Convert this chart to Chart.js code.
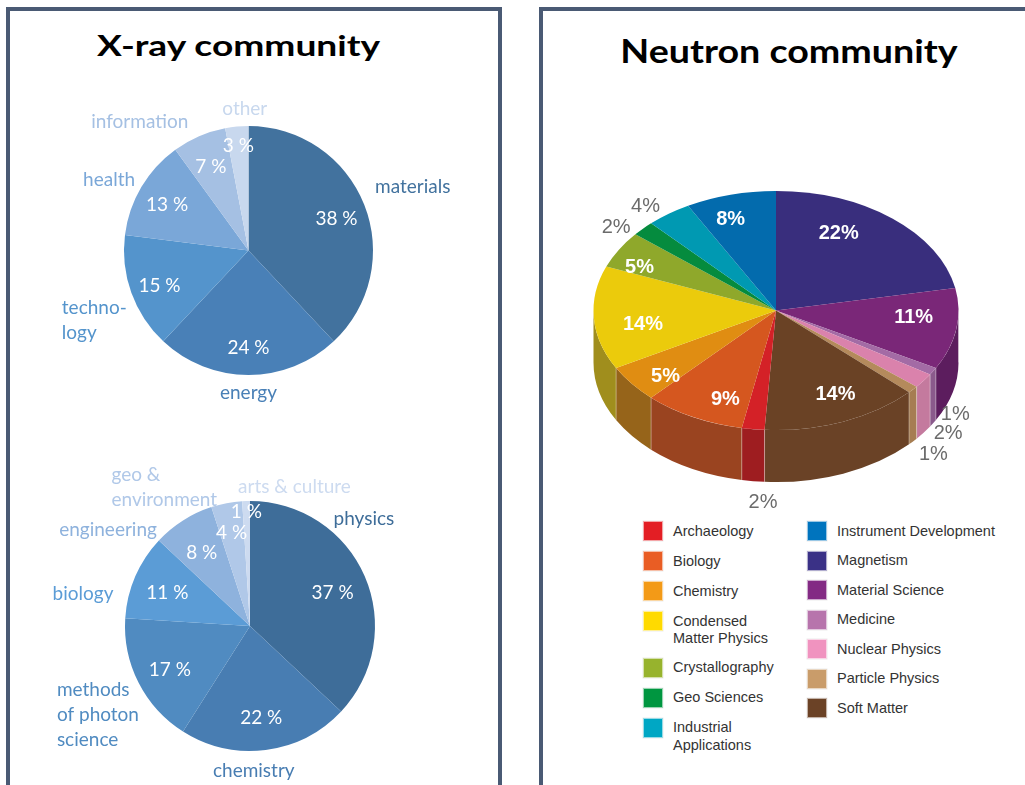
<!DOCTYPE html>
<html>
<head>
<meta charset="utf-8">
<script src="https://cdn.jsdelivr.net/npm/chart.js@4.4.0/dist/chart.umd.min.js"></script>
<style>
    body { margin: 0; background: #fff; width: 1025px; height: 785px; overflow: hidden; position: relative; }
    .panel { position: absolute; border: 4px solid #4a5a74; border-bottom: none; height: 800px; }
    #left-panel { left: 6px; top: 7px; width: 488px; }
    #right-panel { left: 539px; top: 7px; width: 600px; }
    .title { position: absolute; font-family: Lato, sans-serif; font-weight: bold; color: #000; text-align: center; white-space: nowrap; line-height: 1; transform-origin: 50% 50%; }
    canvas { position: absolute; }
    .legend-col { position: absolute; top: 521px; font-family: "Liberation Sans", Arial, sans-serif; font-size: 14.5px; color: #333; }
    .legend-item { display: flex; align-items: flex-start; }
    .legend-item .sw { width: 18px; height: 18px; border: 1px solid rgba(255,255,255,0.6); box-shadow: 0 0 0 0.5px rgba(0,0,0,0.08); flex: none; }
    .legend-item .txt { margin-left: 10px; line-height: 17.5px; margin-top: 1.5px; white-space: pre-line; }
</style>
</head>
<body>
<div class="panel" id="left-panel"></div>
<div class="panel" id="right-panel"></div>
<div class="title" style="left:0; width:477px; top:30px; font-size:29px; transform:scaleX(1.28);">X-ray community</div>
<div class="title" style="left:543px; width:492px; top:34px; font-size:33px; transform:scaleX(1.14);">Neutron community</div>
<canvas id="fields-chart" width="486" height="380" style="left:11px; top:60px;"></canvas>
<canvas id="disciplines-chart" width="486" height="345" style="left:11px; top:440px;"></canvas>
<canvas id="neutron-chart" width="482" height="500" style="left:543px; top:11px;"></canvas>
<div class="legend-col" id="legend-a" style="left:643px;"></div>
<div class="legend-col" id="legend-b" style="left:807px;"></div>

<script>
// X-ray community - fields of application (upper pie)
const fieldLabels = ['materials', 'energy', 'techno-\nlogy', 'health', 'information', 'other'];
const fieldValues = [38, 24, 15, 13, 7, 3];
const fieldColors = ['#42729e', '#4980b7', '#5494cc', '#7aa7d8', '#a5c0e3', '#c8d8ee'];

// X-ray community - disciplines (lower pie)
const disciplineLabels = ['physics', 'chemistry', 'methods\nof photon\nscience', 'biology', 'engineering', 'geo &\nenvironment', 'arts & culture'];
const disciplineValues = [37, 22, 17, 11, 8, 4, 1];
const disciplineColors = ['#3e6d99', '#487db2', '#508bc1', '#5b9cd6', '#8eb2dd', '#b0c8e8', '#cddbf0'];

// Neutron community (clockwise from 12 o'clock)
const neutronLabels = ['Magnetism', 'Material Science', 'Medicine', 'Nuclear Physics', 'Particle Physics', 'Soft Matter',
    'Archaeology', 'Biology', 'Chemistry', 'Condensed\nMatter Physics', 'Crystallography', 'Geo Sciences',
    'Industrial\nApplications', 'Instrument Development'];
const neutronValues = [22, 11, 1, 2, 1, 14, 2, 9, 5, 14, 5, 2, 4, 8];
const neutronColors = ['#392e7d', '#7a2778', '#a36ba5', '#da82ac', '#b48a5c', '#6a4225',
    '#d42127', '#d5571f', '#e08d12', '#ebcb0c', '#8fa82b', '#058b3e', '#0099b2', '#036bad'];
const neutronSideColors = ['#28205a', '#5c1d5e', '#8a5a8c', '#c47a9e', '#a67d52', '#6a4226',
    '#9e1d20', '#9a4420', '#96641a', '#a08e1d', '#65751e', '#03612b', '#006b7c', '#034b79'];
const neutronSwatchColors = ['#3a3186', '#832a84', '#b774ac', '#f093bf', '#c99c6a', '#6b4226',
    '#e31e24', '#e95d24', '#f39a17', '#ffda00', '#97b32d', '#009640', '#00a7c4', '#0074be'];

// hand tweaks so the labels sit where Excel's "best fit" put them
const fieldLabelShift = [[6, -10], [0, -3], [1, 17], [-3, 3], [-27, 4], [1, 3]];
const disciplineLabelShift = [[-36, -49], [-18, 1], [3, 11], [-17, 26], [-22, 27], [-19, 17], [-4, 6]];
const neutronLabelShift = [[-28, -5], [-3, -8], [-6, 5], [-2, 4], [-4, 5], [7, -3], [14, 0],
    [14, 6], [2, 9], [9, 8], [-14, 4], [-3, 14], [-4, 10], [-10, -1]];

const ARC_PROPS = ['x', 'y', 'startAngle', 'endAngle', 'outerRadius'];

function overlaps(a, b, pad) {
    return Math.abs(a.cx - b.cx) < (a.w + b.w) / 2 + pad && Math.abs(a.cy - b.cy) < (a.h + b.h) / 2;
}

// labels for the flat pies: value inside, category outside
const flatPieLabels = {
    id: 'flatPieLabels',
    afterDraw(chart, args, opts) {
        const ctx = chart.ctx;
        const ds = chart.data.datasets[0];
        const lh = opts.lineHeight;
        ctx.save();
        ctx.font = opts.font;
        ctx.textBaseline = 'middle';
        const inner = [];
        const boxes = chart.getDatasetMeta(0).data.map((arc, i) => {
            const { x, y, startAngle, endAngle, outerRadius: r } = arc.getProps(ARC_PROPS, true);
            const mid = (startAngle + endAngle) / 2;
            const dx = Math.cos(mid), dy = Math.sin(mid);

            const text = ds.data[i] + ' %';
            const inBox = { text, w: ctx.measureText(text).width, h: 20,
                cx: x + dx * r * opts.inside, cy: y + dy * r * opts.inside + 3 };
            // small slices: slide the value outward until it clears its neighbours
            for (let k = 0; k < 40 && inner.some(o => overlaps(o, inBox, 2)); k++) {
                inBox.cx += dx;
                inBox.cy += dy;
            }
            inner.push(inBox);

            const lines = chart.data.labels[i].split('\n');
            const w = Math.max(...lines.map(l => ctx.measureText(l).width));
            const h = lines.length * lh;
            const px = x + dx * (r + opts.gap), py = y + dy * (r + opts.gap);
            return { lines, w, h, cx: px + dx * w / 2, cy: py + dy * h / 2, color: ds.backgroundColor[i] };
        });
        // spread outside labels that collide
        for (let i = 0; i < boxes.length; i++) {
            for (let j = i + 1; j < boxes.length; j++) {
                const a = boxes[i], b = boxes[j];
                const ox = (a.w + b.w) / 2 + 6 - Math.abs(a.cx - b.cx);
                const oy = (a.h + b.h) / 2 - Math.abs(a.cy - b.cy);
                if (ox > 0 && oy > 0) {
                    const [l, r] = a.cx < b.cx ? [a, b] : [b, a];
                    l.cx -= ox / 2;
                    r.cx += ox / 2;
                }
            }
        }
        ctx.textAlign = 'center';
        ctx.fillStyle = '#fff';
        inner.forEach(b => ctx.fillText(b.text, b.cx, b.cy));

        ctx.textAlign = 'left';
        boxes.forEach((b, i) => {
            const [sx, sy] = (opts.shift && opts.shift[i]) || [0, 0];
            ctx.fillStyle = b.color;
            b.lines.forEach((l, j) => ctx.fillText(l, b.cx - b.w / 2 + sx, b.cy - b.h / 2 + lh * (j + 0.5) + sy));
        });
        ctx.restore();
    }
};

// fake 3D: draw the front walls, then squash the pie into an ellipse
const pie3d = {
    id: 'pie3d',
    beforeDatasetsDraw(chart, args, opts) {
        const ctx = chart.ctx;
        const arcs = chart.getDatasetMeta(0).data;
        const { x: cx, y: cy, outerRadius: rx } = arcs[0].getProps(ARC_PROPS, true);
        const ry = rx * opts.tilt;
        arcs.forEach((arc, i) => {
            const { startAngle, endAngle } = arc.getProps(ARC_PROPS, true);
            const s = Math.max(startAngle, 0), e = Math.min(endAngle, Math.PI);
            if (e <= s) return;
            ctx.beginPath();
            ctx.ellipse(cx, cy, rx, ry, 0, s, e);
            ctx.ellipse(cx, cy + opts.depth, rx, ry, 0, e, s, true);
            ctx.closePath();
            ctx.fillStyle = opts.sideColors[i];
            ctx.fill();
            // light seam at the slice edge
            ctx.beginPath();
            ctx.moveTo(cx + rx * Math.cos(s), cy + ry * Math.sin(s));
            ctx.lineTo(cx + rx * Math.cos(s), cy + ry * Math.sin(s) + opts.depth);
            ctx.strokeStyle = 'rgba(255,255,255,0.35)';
            ctx.lineWidth = 1;
            ctx.stroke();
        });
        ctx.save();
        ctx.translate(cx, cy);
        ctx.scale(1, opts.tilt);
        ctx.translate(-cx, -cy);
    },
    afterDatasetsDraw(chart) {
        chart.ctx.restore();
    }
};

const pie3dLabels = {
    id: 'pie3dLabels',
    afterDraw(chart, args, opts) {
        const ctx = chart.ctx;
        const values = chart.data.datasets[0].data;
        const outside = [];
        ctx.save();
        ctx.textAlign = 'center';
        ctx.textBaseline = 'middle';
        chart.getDatasetMeta(0).data.forEach((arc, i) => {
            const { x, y, startAngle, endAngle, outerRadius: rx } = arc.getProps(ARC_PROPS, true);
            const ry = rx * opts.tilt;
            const mid = (startAngle + endAngle) / 2;
            const c = Math.cos(mid), s = Math.sin(mid);
            const [sx, sy] = (opts.shift && opts.shift[i]) || [0, 0];
            const text = values[i] + '%';
            if (values[i] >= 5) {
                ctx.font = opts.insideFont;
                ctx.fillStyle = '#fff';
                ctx.fillText(text, x + c * rx * opts.inside + sx, y + s * ry * opts.inside + sy);
            } else {
                ctx.font = opts.outsideFont;
                const w = ctx.measureText(text).width, h = opts.lineHeight;
                const px = x + c * rx * opts.outside;
                const py = y + s * ry * opts.outside + Math.max(s, 0) * opts.depth;
                outside.push({ text, w, h, s, sx, sy, x: px + c * w / 2, y: py + s * h / 2 });
            }
        });
        outside.forEach((b, k) => {
            const p = outside[k - 1];
            if (p && Math.abs(b.x - p.x) < (b.w + p.w) / 2 && Math.abs(b.y - p.y) < b.h) {
                b.y = b.s > 0 ? p.y + b.h : p.y - b.h;
            }
        });
        ctx.font = opts.outsideFont;
        ctx.fillStyle = '#6b6b6b';
        outside.forEach(b => ctx.fillText(b.text, b.x + b.sx, b.y + b.sy));
        ctx.restore();
    }
};

function pieOptions(padding, extra) {
    return {
        responsive: false,
        animation: false,
        events: [],
        layout: { padding },
        elements: { arc: { borderWidth: 0 } },
        plugins: Object.assign({ legend: { display: false }, tooltip: { enabled: false } }, extra)
    };
}

new Chart(document.getElementById('fields-chart'), {
    type: 'pie',
    data: { labels: fieldLabels, datasets: [{ data: fieldValues, backgroundColor: fieldColors }] },
    options: pieOptions({ left: 113, right: 124, top: 66, bottom: 65 }, {
        flatPieLabels: { font: '19px Lato', lineHeight: 25, inside: 0.76, gap: 8, shift: fieldLabelShift }
    }),
    plugins: [flatPieLabels]
});

new Chart(document.getElementById('disciplines-chart'), {
    type: 'pie',
    data: { labels: disciplineLabels, datasets: [{ data: disciplineValues, backgroundColor: disciplineColors }] },
    options: pieOptions({ left: 114, right: 122, top: 61, bottom: 34 }, {
        flatPieLabels: { font: '19px Lato', lineHeight: 25, inside: 0.72, gap: 8, shift: disciplineLabelShift }
    }),
    plugins: [flatPieLabels]
});

new Chart(document.getElementById('neutron-chart'), {
    type: 'pie',
    data: { labels: neutronLabels, datasets: [{ data: neutronValues, backgroundColor: neutronColors }] },
    options: pieOptions({ left: 50, right: 66, top: 117, bottom: 18 }, {
        pie3d: { tilt: 0.655, depth: 52, sideColors: neutronSideColors },
        pie3dLabels: {
            tilt: 0.655, depth: 52, inside: 0.78, outside: 1.1, lineHeight: 20, shift: neutronLabelShift,
            insideFont: 'bold 20px "Liberation Sans", Arial', outsideFont: '20px "Liberation Sans", Arial'
        }
    }),
    plugins: [pie3d, pie3dLabels]
});

// legend in two alphabetical columns
const legendItems = neutronLabels.map((name, i) => ({ name, color: neutronSwatchColors[i] }))
    .sort((a, b) => a.name.localeCompare(b.name));
legendItems.forEach((item, i) => {
    const col = document.getElementById(i < 7 ? 'legend-a' : 'legend-b');
    const row = document.createElement('div');
    row.className = 'legend-item';
    row.style.marginBottom = i < 7 ? '10px' : '9.5px';
    row.innerHTML = `<div class="sw" style="background:${item.color}"></div><div class="txt">${item.name}</div>`;
    col.appendChild(row);
});
</script>
</body>
</html>
